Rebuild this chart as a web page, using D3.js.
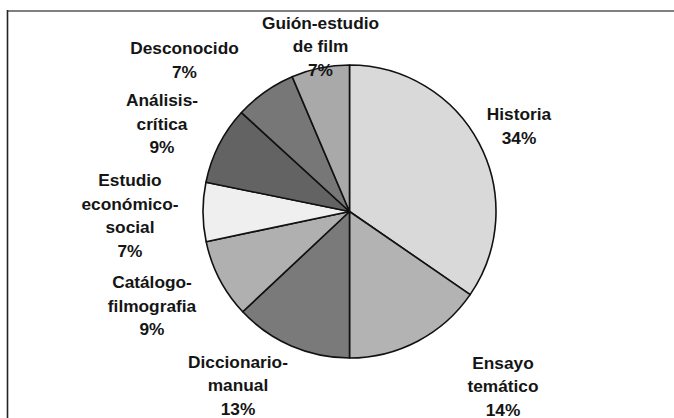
<!DOCTYPE html>
<html>
<head>
<meta charset="utf-8">
<script src="https://cdn.jsdelivr.net/npm/d3@7"></script>
<style>
  body { margin: 0; background: #fff; }
  svg { display: block; }
</style>
</head>
<body>
<svg id="main_svg" width="674" height="418"></svg>
<script>
// categories, clockwise from 12 o'clock
let categories = ["Historia", "Ensayo temático", "Diccionario-manual", "Catálogo-filmografia",
    "Estudio económico-social", "Análisis-crítica", "Desconocido", "Guión-estudio de film"]
let shares = [34.6, 15.4, 13.0, 8.7, 6.5, 8.6, 6.8, 6.4]
// percentage text printed in the labels
let pctLabels = ["34%", "14%", "13%", "9%", "7%", "9%", "7%", "7%"]
// label lines as broken in the chart
let labelLines = [
    ["Historia"],
    ["Ensayo", "temático"],
    ["Diccionario-", "manual"],
    ["Catálogo-", "filmografia"],
    ["Estudio", "económico-", "social"],
    ["Análisis-", "crítica"],
    ["Desconocido"],
    ["Guión-estudio", "de film"]
]

// layout
let cx = 349.5
let cy = 211.5
let r = 146.5
let fills = ["#d9d9d9", "#b3b3b3", "#7a7a7a", "#b0b0b0", "#efefef", "#636363", "#777777", "#a9a9a9"]
// label block: centre x and baseline of first line
let labelPos = [[519, 120], [503, 368.5], [238, 367.5], [152, 288], [130, 186], [162, 106], [184.5, 54], [320.5, 28.5]]
let lineH = 23.5

let svg = d3.select("#main_svg")

// frame (only top and left edges are visible)
svg.append("line")
    .attr("x1", 7).attr("y1", 11).attr("x2", 674).attr("y2", 11)
    .attr("stroke", "#808080").attr("stroke-width", 2)
svg.append("line")
    .attr("x1", 7.5).attr("y1", 10).attr("x2", 7.5).attr("y2", 418)
    .attr("stroke", "#222").attr("stroke-width", 1.6)

let pie = d3.pie().sort(null).value(d => d)
let arcs = pie(shares)
let arc = d3.arc().innerRadius(0).outerRadius(r)

let g = svg.append("g").attr("transform", "translate(" + cx + "," + cy + ")")
g.selectAll("path")
    .data(arcs)
    .enter()
    .append("path")
    .attr("d", arc)
    .attr("fill", (d, i) => fills[i])
    .attr("stroke", "#111")
    .attr("stroke-width", 1.6)
    .attr("stroke-linejoin", "round")

// labels
let labels = svg.append("g")
    .attr("font-family", "'Liberation Sans', Arial, sans-serif")
    .attr("font-weight", "bold")
    .attr("font-size", "17.3px")
    .attr("fill", "#151515")
    .attr("text-anchor", "middle")

categories.forEach(function (c, i) {
    let lines = labelLines[i].concat([pctLabels[i]])
    let t = labels.append("text")
        .attr("x", labelPos[i][0])
        .attr("y", labelPos[i][1])
    lines.forEach(function (s, k) {
        t.append("tspan")
            .attr("x", labelPos[i][0])
            .attr("y", labelPos[i][1] + k * lineH)
            .text(s)
    })
})
</script>
</body>
</html>
